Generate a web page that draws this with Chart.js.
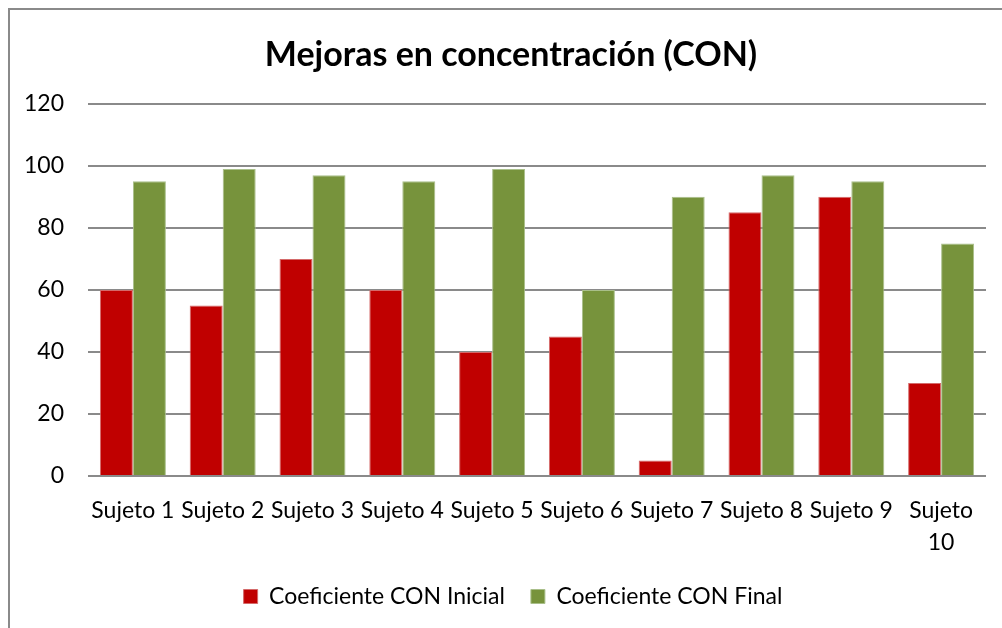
<!DOCTYPE html>
<html>
<head>
<meta charset="utf-8">
<script src="https://cdn.jsdelivr.net/npm/chart.js@4"></script>
<style>
  html, body { margin: 0; padding: 0; background: #fff; overflow: hidden; }
  #wrap { position: absolute; left: 0; top: 0; width: 1002px; height: 628px; }
  #frame { position: absolute; left: 8px; top: 8px; width: 1100px; height: 700px;
           border-left: 2px solid #8a8a8a; border-top: 2px solid #8a8a8a; pointer-events: none; }
</style>
</head>
<body>
<div id="wrap"><canvas id="c" width="1002" height="628"></canvas></div>
<div id="frame"></div>
<script>
const titleText = 'Mejoras en concentración (CON)';
const categories = ['Sujeto 1', 'Sujeto 2', 'Sujeto 3', 'Sujeto 4', 'Sujeto 5',
                    'Sujeto 6', 'Sujeto 7', 'Sujeto 8', 'Sujeto 9', ['Sujeto', '10']];
const seriesNames = ['Coeficiente CON Inicial', 'Coeficiente CON Final'];
const inicialValues = [60, 55, 70, 60, 40, 45, 5, 85, 90, 30];
const finalValues = [95, 99, 97, 95, 99, 60, 90, 97, 95, 75];
const yTicks = { min: 0, max: 120, step: 20 };

const FONT = "Lato, 'Open Sans', sans-serif";

const boxShift = {
  id: 'boxShift',
  afterLayout(chart) {
    chart.legend.left += 20;
    chart.legend.right += 20;
    chart.titleBlock.left += 18;
    chart.titleBlock.right += 18;
  }
};

new Chart(document.getElementById('c'), {
  type: 'bar',
  data: {
    labels: categories,
    datasets: [
      { label: seriesNames[0], data: inicialValues, backgroundColor: '#C00000',
        borderColor: '#d46a6a', borderWidth: 1 },
      { label: seriesNames[1], data: finalValues, backgroundColor: '#77933C',
        borderColor: '#a9bf8a', borderWidth: 1 }
    ]
  },
  plugins: [boxShift],
  options: {
    responsive: false,
    animation: false,
    datasets: { bar: { categoryPercentage: 0.735, barPercentage: 1.0 } },
    layout: { padding: { left: 0, right: 16, top: 0, bottom: 10 } },
    plugins: {
      title: {
        display: true, text: titleText, color: '#000',
        font: { family: FONT, size: 34, weight: 'bold', lineHeight: 1.2 },
        padding: { top: 35, bottom: 28 }
      },
      legend: {
        position: 'bottom',
        labels: {
          color: '#000', boxWidth: 14, boxHeight: 14, padding: 26,
          font: { family: FONT, size: 23 }
        }
      },
      tooltip: { enabled: false }
    },
    scales: {
      x: {
        grid: { display: false, drawTicks: false },
        border: { display: false },
        ticks: { color: '#000', font: { family: FONT, size: 23, lineHeight: 1.4 },
                 maxRotation: 0, minRotation: 0, autoSkip: false, padding: 18 },
        afterFit: (s) => { s.height = 83; }
      },
      y: {
        min: yTicks.min, max: yTicks.max,
        grid: { color: '#8a8a8a', lineWidth: 2, drawTicks: false },
        border: { display: false },
        ticks: { stepSize: yTicks.step, color: '#000', padding: 24,
                 font: { family: FONT, size: 23 } },
        afterFit: (s) => { s.width = 88; }
      }
    }
  }
});
</script>
</body>
</html>
